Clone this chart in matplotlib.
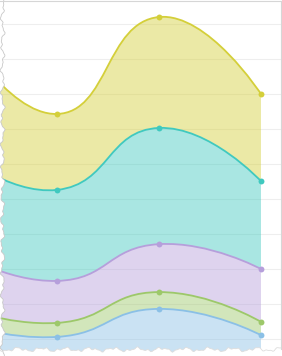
import numpy as np
import matplotlib
matplotlib.use("Agg")
import matplotlib.pyplot as plt
from matplotlib.path import Path
from matplotlib.patches import PathPatch, Polygon

# category positions (first one sits just outside the cropped view)
cats = [0, 1, 2, 3]
# stacked series, bottom to top
blue = [14.9, 10.6, 18.6, 11.1]
green = [4.8, 4.0, 4.8, 3.8]
purple = [15.7, 12.0, 13.7, 15.1]
teal = [28.6, 26.0, 33.2, 25.1]
yellow = [36.3, 21.7, 31.7, 24.9]

series = [blue, green, purple, teal, yellow]
colors = ['#8bc0e6', '#9dc86a', '#b69fdb', '#40c9bf', '#d4cf3a']
grid_vals = [10, 20, 30, 40, 50, 60, 70, 80, 90, 100]

fig = plt.figure(figsize=(2.82, 3.56), dpi=100)
ax = fig.add_axes([0, 0, 1, 1])
ax.set_xlim(0.441, 3.206)
ax.set_ylim(5.14, 106.86)
ax.axis('off')


def smooth_path(xs, ys, smooth=0.5):
    # echarts style bezier smoothing, done in screen space
    pts = ax.transData.transform(np.column_stack([xs, ys]))
    n = len(pts)
    cp_in, cp_out = [], []
    for i in range(n):
        p = pts[i]
        if i == 0 or i == n - 1:
            cp_in.append(p)
            cp_out.append(p)
            continue
        prev, nxt = pts[i - 1], pts[i + 1]
        vec = (nxt - prev) * smooth
        l0 = np.hypot(*(p - prev))
        l1 = np.hypot(*(nxt - p))
        r1 = l1 / (l0 + l1)
        cp_in.append(p - vec * (1 - r1))
        cp_out.append(p + vec * r1)
    verts = [pts[0]]
    codes = [Path.MOVETO]
    for i in range(n - 1):
        verts += [cp_out[i], cp_in[i + 1], pts[i + 1]]
        codes += [Path.CURVE4] * 3
    verts = ax.transData.inverted().transform(np.array(verts))
    return [tuple(v) for v in verts], codes


for g in grid_vals:
    ax.axhline(g, color='#eeeeee', lw=0.8, zorder=0)

base = np.zeros(len(cats))
for vals, c in zip(series, colors):
    top = base + np.array(vals)
    tv, tc = smooth_path(cats, top)
    if base.any():
        bv, bc = smooth_path(cats[::-1], base[::-1])
        verts = tv + bv + [tv[0]]
        codes = tc + [Path.LINETO] + bc[1:] + [Path.CLOSEPOLY]
    else:
        verts = tv + [(cats[-1], 0), (cats[0], 0), tv[0]]
        codes = tc + [Path.LINETO, Path.LINETO, Path.CLOSEPOLY]
    ax.add_patch(PathPatch(Path(verts, codes), facecolor=c, alpha=0.45,
                           edgecolor='none', zorder=1))
    ax.add_patch(PathPatch(Path(tv, tc), facecolor='none', edgecolor=c,
                           lw=1.3, zorder=3))
    ax.scatter(cats, top, s=18, color=c, zorder=4, linewidths=0)
    base = top

# torn paper edges (decoration, in figure pixels)
W, H = 282, 356
ly = np.linspace(0, H, 240)
lx = 2.6 + 1.4 * np.sin(ly / 4.0) + 0.9 * np.sin(ly / 1.7 + 1) + 0.5 * np.sin(ly / 0.9 + 2)
bx = np.linspace(0, W, 220)
by = 349.5 + 1.4 * np.sin(bx / 3.8) + 0.9 * np.sin(bx / 1.6 + 0.5) + 0.5 * np.sin(bx / 0.85)


def to_fig(x, y):
    return np.asarray(x) / W, 1 - np.asarray(y) / H


left_poly = [to_fig(-5, -5)] + [to_fig(x, y) for x, y in zip(lx, ly)] + [to_fig(-5, H + 5)]
fig.patches.append(Polygon(left_poly, closed=True, transform=fig.transFigure,
                           facecolor='white', edgecolor='none', zorder=10))
bot_poly = [to_fig(-5, H + 5)] + [to_fig(x, y) for x, y in zip(bx, by)] + [to_fig(W + 5, H + 5)]
fig.patches.append(Polygon(bot_poly, closed=True, transform=fig.transFigure,
                           facecolor='white', edgecolor='none', zorder=10))
fx, fy = to_fig(lx, ly)
fig.add_artist(plt.Line2D(fx, fy, transform=fig.transFigure, color='#c8c8c8', lw=0.6, zorder=11))
fx, fy = to_fig(bx, by)
fig.add_artist(plt.Line2D(fx, fy, transform=fig.transFigure, color='#dddddd', lw=0.6, zorder=11))
# plain top and right borders
fig.add_artist(plt.Line2D([0, 280.5 / W], [1 - 1 / H, 1 - 1 / H], transform=fig.transFigure,
                          color='#d6d6d6', lw=0.8, zorder=11))
fig.add_artist(plt.Line2D([280.5 / W, 280.5 / W], [1 - 1 / H, 1 - 349 / H], transform=fig.transFigure,
                          color='#d6d6d6', lw=0.8, zorder=11))

fig.savefig('out.png', dpi=100, facecolor='white')
